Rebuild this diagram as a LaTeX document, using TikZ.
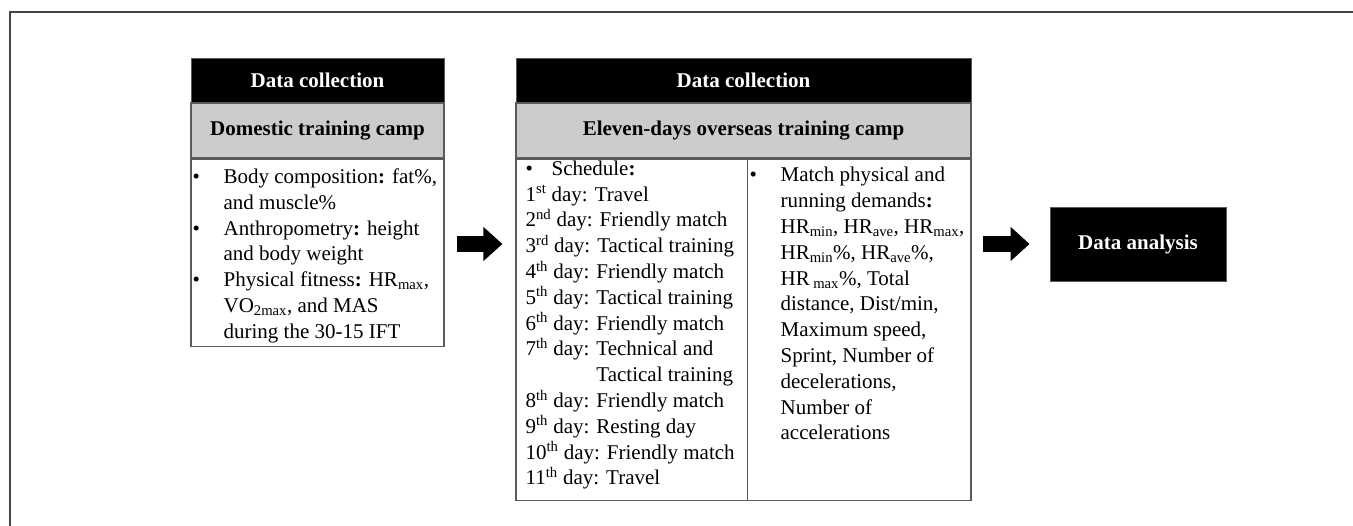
\documentclass[tikz,border=0pt]{standalone}
\usepackage{fontspec}
\setmainfont{Liberation Serif}
\usetikzlibrary{arrows.meta,positioning}
\definecolor{bandgray}{RGB}{204,204,204}
\definecolor{linegray}{RGB}{90,90,90}
\definecolor{framegray}{RGB}{70,70,70}
\newcommand{\bul}[1]{\makebox[#1][l]{\textbullet}}
\newcommand{\cont}{\hspace*{31pt}}
\newcommand{\dayno}[2]{#1\textsuperscript{#2}}
\begin{document}
\begin{tikzpicture}[x=1pt,y=-1pt,
    head/.style      = {fill=black, draw=linegray, line width=0.8pt, text=white,
                        font=\bfseries\fontsize{21}{25}\selectfont, minimum height=44pt, inner sep=0pt},
    band/.style      = {fill=bandgray, draw=linegray, line width=1.2pt,
                        font=\bfseries\fontsize{21}{25}\selectfont, minimum height=55pt, inner sep=0pt},
    bodybox/.style   = {draw=linegray, line width=1.2pt, inner sep=0pt},
    listtext/.style  = {align=left, inner sep=0pt, anchor=north west,
                        font=\fontsize{21}{25.8}\selectfont},
    blockarrow/.style = {line width=16pt, -{Triangle[width=33pt,length=19pt]}}]

    \useasboundingbox (0,0) rectangle (1353,526);
    \draw[framegray, line width=1.5pt] (10,526) -- (10,12) -- (1353,12);

    \node[head, minimum width=253pt]                         (headA) at (317.5,80) {Data collection};
    \node[band, minimum width=253pt, below=0pt of headA]     (campA) {Domestic training camp};
    \node[bodybox, minimum width=253pt, minimum height=187pt, below=0pt of campA] (bodyA) {};
    \node[listtext] (listA) at ([xshift=2pt,yshift=-10pt]bodyA.north west) {%
        \bul{31pt}Body composition\textbf{:} fat\%,\\
        \cont and muscle\%\\
        \bul{31pt}Anthropometry\textbf{:} height\\
        \cont and body weight\\
        \bul{31pt}Physical fitness\textbf{:} HR\textsubscript{max},\\
        \cont VO\textsubscript{2max}, and MAS\\
        \cont during the 30-15 IFT};

    \node[head, minimum width=455pt]                         (headB) at (743.5,80) {Data collection};
    \node[band, minimum width=455pt, below=0pt of headB]     (campB) {Eleven-days overseas training camp};
    \node[bodybox, minimum width=455pt, minimum height=341pt, below=0pt of campB] (bodyB) {};
    \draw[linegray, line width=1.2pt] ([xshift=232pt]bodyB.north west) -- ([xshift=232pt]bodyB.south west);
    \node[listtext] (days) at ([xshift=10pt,yshift=-2pt]bodyB.north west) {%
        \bul{26pt}Schedule\textbf{:}\\
        \dayno{1}{st} day: Travel\\
        \dayno{2}{nd} day: Friendly match\\
        \dayno{3}{rd} day: Tactical training\\
        \dayno{4}{th} day: Friendly match\\
        \dayno{5}{th} day: Tactical training\\
        \dayno{6}{th} day: Friendly match\\
        \dayno{7}{th} day: Technical and\\
        \hphantom{\dayno{7}{th} day: }Tactical training\\
        \dayno{8}{th} day: Friendly match\\
        \dayno{9}{th} day: Resting day\\
        \dayno{10}{th} day: Friendly match\\
        \dayno{11}{th} day: Travel};
    \node[listtext] (demands) at ([xshift=234pt,yshift=-8.5pt]bodyB.north west) {%
        \bul{31pt}Match physical and\\
        \cont running demands\textbf{:}\\
        \cont HR\textsubscript{min}, HR\textsubscript{ave}, HR\textsubscript{max},\\
        \cont HR\textsubscript{min}\%, HR\textsubscript{ave}\%,\\
        \cont HR\,\textsubscript{max}\%, Total\\
        \cont distance, Dist/min,\\
        \cont Maximum speed,\\
        \cont Sprint, Number of\\
        \cont decelerations,\\
        \cont Number of\\
        \cont accelerations};

    \node[head, minimum width=176pt, minimum height=74pt]   (ana) at (1138,244) {Data analysis};

    \draw[blockarrow, shorten <=12pt, shorten >=13pt] (bodyA.east |- ana) -- (bodyB.west |- ana);
    \draw[blockarrow, shorten <=11pt, shorten >=20pt] (bodyB.east |- ana) -- (ana.west);

\end{tikzpicture}
\end{document}
